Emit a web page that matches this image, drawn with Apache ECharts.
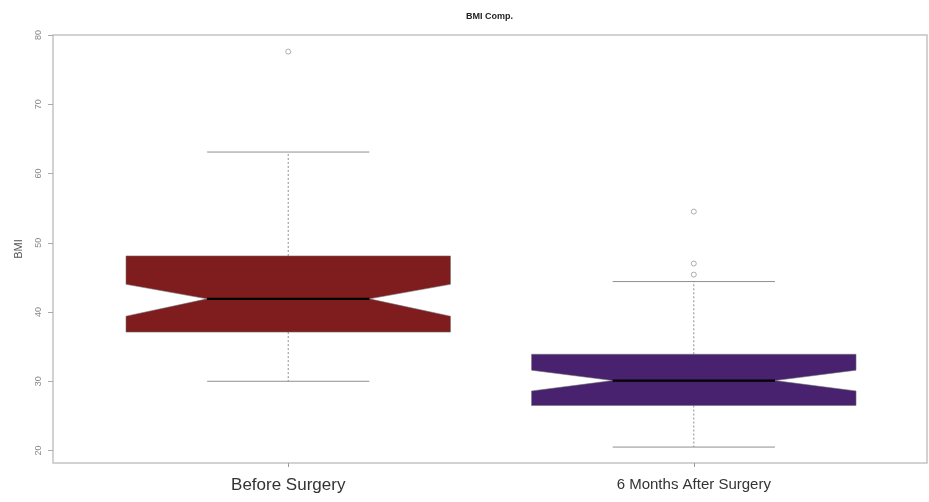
<!DOCTYPE html>
<html>
<head>
<meta charset="utf-8">
<script src="https://cdn.jsdelivr.net/npm/echarts@6/dist/echarts.min.js"></script>
<style>
html,body{margin:0;padding:0;background:#fff;}
#chart{width:929px;height:502px;}
</style>
</head>
<body>
<div id="chart"></div>
<script>
var categories = ['Before Surgery', '6 Months After Surgery'];
var lowerWhisker = [30.0, 20.5];
var q1 = [37.1, 26.5];
var median = [41.9, 30.1];
var q3 = [48.1, 33.9];
var upperWhisker = [63.1, 44.4];
var notchLow = [39.4, 28.6];
var notchHigh = [44.0, 31.6];
var outlierGroup = [1, 2, 2, 2];
var outlierValue = [77.6, 54.5, 47.0, 45.4];
var yTicks = [20, 30, 40, 50, 60, 70, 80];
var boxColors = ['#7f1c1e', '#48226e'];

var boxData = categories.map(function (c, i) {
  return [i + 1, lowerWhisker[i], q1[i], median[i], q3[i], upperWhisker[i], notchLow[i], notchHigh[i]];
});
var outlierData = outlierGroup.map(function (g, i) { return [g, outlierValue[i]]; });

var chart = echarts.init(document.getElementById('chart'));

function renderBox(params, api) {
  var x = api.value(0);
  var idx = params.dataIndex;
  var w = api.size([0.8, 0])[0] / 2;
  var c = function (v) { return api.coord([x, v]); };
  var pLo = c(api.value(1)), pQ1 = c(api.value(2)), pMed = c(api.value(3)),
      pQ3 = c(api.value(4)), pHi = c(api.value(5)), pNL = c(api.value(6)), pNH = c(api.value(7));
  var cx = pMed[0];
  var gray = '#8f8f8f';
  var children = [
    { type: 'line', shape: { x1: cx, y1: pQ3[1], x2: cx, y2: pHi[1] }, style: { stroke: gray, lineWidth: 1, lineDash: [2, 2] } },
    { type: 'line', shape: { x1: cx, y1: pQ1[1], x2: cx, y2: pLo[1] }, style: { stroke: gray, lineWidth: 1, lineDash: [2, 2] } },
    { type: 'line', shape: { x1: cx - w / 2, y1: pHi[1], x2: cx + w / 2, y2: pHi[1] }, style: { stroke: gray, lineWidth: 1 } },
    { type: 'line', shape: { x1: cx - w / 2, y1: pLo[1], x2: cx + w / 2, y2: pLo[1] }, style: { stroke: gray, lineWidth: 1 } },
    { type: 'polygon', shape: { points: [
        [cx - w, pQ3[1]], [cx + w, pQ3[1]], [cx + w, pNH[1]], [cx + w / 2, pMed[1]],
        [cx + w, pNL[1]], [cx + w, pQ1[1]], [cx - w, pQ1[1]], [cx - w, pNL[1]],
        [cx - w / 2, pMed[1]], [cx - w, pNH[1]]
      ] }, style: { fill: boxColors[idx], stroke: 'rgba(110,110,110,0.55)', lineWidth: 1 } },
    { type: 'line', shape: { x1: cx - w / 2, y1: pMed[1], x2: cx + w / 2, y2: pMed[1] }, style: { stroke: '#000', lineWidth: 2.2 } }
  ];
  return { type: 'group', children: children };
}

chart.setOption({
  animation: false,
  backgroundColor: '#fff',
  title: {
    text: 'BMI Comp.',
    left: 461, top: 7,
    textStyle: { fontFamily: 'Liberation Sans', fontSize: 9, fontWeight: 'bold', color: '#222' }
  },
  grid: { left: 53, right: 2, top: 35, bottom: 39, show: true, borderColor: '#c4c4c4', borderWidth: 1.5, backgroundColor: 'transparent' },
  xAxis: {
    type: 'value', min: 0.42, max: 2.575,
    axisLine: { show: false },
    splitLine: { show: false },
    axisTick: { show: true, customValues: [1, 2], length: 4, lineStyle: { color: '#999' } },
    axisLabel: {
      customValues: [1, 2], margin: 14,
      formatter: function (v) { return v === 1 ? '{a|' + categories[0] + '}' : '{b|' + categories[1] + '}'; },
      rich: {
        a: { fontFamily: 'Liberation Sans', fontSize: 17, color: '#333' },
        b: { fontFamily: 'Liberation Sans', fontSize: 15, color: '#333' }
      }
    }
  },
  yAxis: {
    type: 'value', min: 18.2, max: 80,
    name: 'BMI', nameLocation: 'middle', nameRotate: 90, nameGap: 29,
    nameTextStyle: { fontFamily: 'Liberation Sans', fontSize: 11, color: '#555' },
    axisLine: { show: false },
    splitLine: { show: false },
    axisTick: { show: true, customValues: yTicks, length: 5, lineStyle: { color: '#aaa' } },
    axisLabel: { customValues: yTicks, rotate: 90, margin: 10, fontFamily: 'Liberation Sans', fontSize: 9, color: '#888' }
  },
  series: [
    { type: 'custom', renderItem: renderBox, data: boxData, encode: { x: 0, y: [1, 2, 3, 4, 5] }, z: 2 },
    { type: 'scatter', data: outlierData, symbol: 'circle', symbolSize: 5,
      itemStyle: { color: '#fff', borderColor: '#999', borderWidth: 1 }, z: 3 }
  ]
});
</script>
</body>
</html>
